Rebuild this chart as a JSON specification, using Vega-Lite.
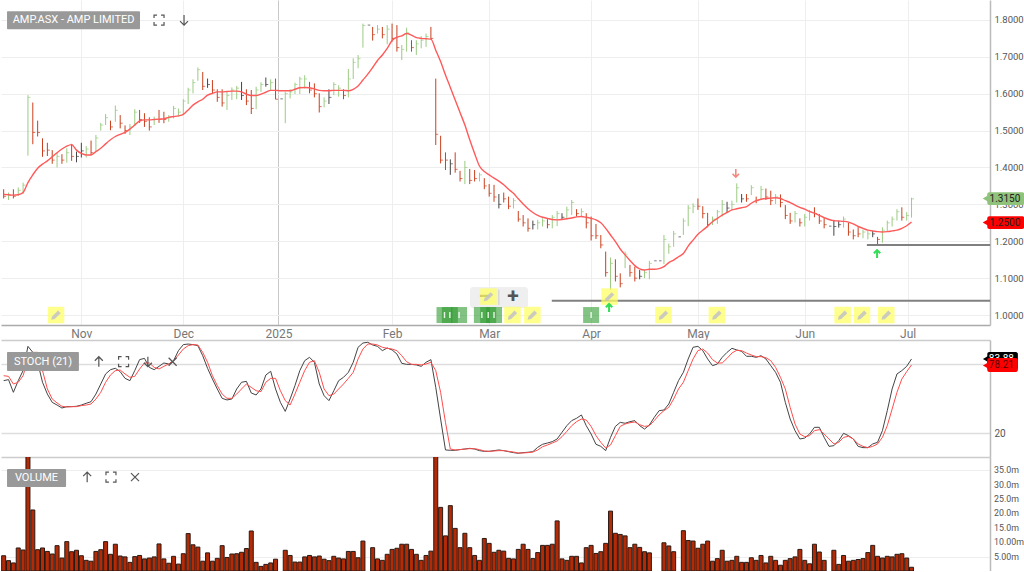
{"$schema":"https://vega.github.io/schema/vega-lite/v6.json","padding":0,"spacing":0,"background":"white","config":{"view":{"stroke":null},"font":"Roboto","concat":{"spacing":0}},
"datasets":{"bars":[
{"i":0,"low":1.316,"high":1.341,"close":1.322,"ma":1.327,"k":65.6,"d":69.9,"vol":5.3,"dir":"down"},
{"i":1,"low":1.312,"high":1.332,"close":1.325,"ma":1.326,"k":66.5,"d":69.3,"vol":3.6,"dir":"up"},
{"i":2,"low":1.316,"high":1.341,"close":1.322,"ma":1.325,"k":55.5,"d":62.7,"vol":2.8,"dir":"down"},
{"i":3,"low":1.323,"high":1.346,"close":1.338,"ma":1.326,"k":65.6,"d":64.2,"vol":8,"dir":"up"},
{"i":4,"low":1.328,"high":1.359,"close":1.352,"ma":1.332,"k":74.3,"d":69.9,"vol":7.3,"dir":"up"},
{"i":5,"low":1.432,"high":1.596,"close":1.59,"ma":1.359,"k":95.3,"d":84.4,"vol":43,"dir":"up"},
{"i":6,"low":1.463,"high":1.576,"close":1.495,"ma":1.38,"k":90.1,"d":90.1,"vol":21.2,"dir":"down"},
{"i":7,"low":1.484,"high":1.527,"close":1.495,"ma":1.398,"k":81.5,"d":90.1,"vol":7.4,"dir":"down"},
{"i":8,"low":1.429,"high":1.479,"close":1.445,"ma":1.409,"k":64.2,"d":74.3,"vol":8,"dir":"down"},
{"i":9,"low":1.431,"high":1.467,"close":1.447,"ma":1.418,"k":54,"d":58.4,"vol":6.8,"dir":"down"},
{"i":10,"low":1.41,"high":1.447,"close":1.42,"ma":1.429,"k":46.8,"d":49.7,"vol":5.9,"dir":"down"},
{"i":11,"low":1.4,"high":1.44,"close":1.43,"ma":1.44,"k":44.5,"d":46.3,"vol":8.8,"dir":"up"},
{"i":12,"low":1.41,"high":1.436,"close":1.42,"ma":1.45,"k":41.9,"d":43.4,"vol":4.5,"dir":"down"},
{"i":13,"low":1.413,"high":1.452,"close":1.44,"ma":1.458,"k":43.1,"d":42.8,"vol":10.2,"dir":"up"},
{"i":14,"low":1.418,"high":1.464,"close":1.43,"ma":1.462,"k":43.1,"d":43.1,"vol":6.7,"dir":"down"},
{"i":15,"low":1.414,"high":1.443,"close":1.43,"ma":1.447,"k":43.4,"d":43.1,"vol":7.2,"dir":"flat"},
{"i":16,"low":1.427,"high":1.467,"close":1.445,"ma":1.438,"k":44.5,"d":44,"vol":5.3,"dir":"flat"},
{"i":17,"low":1.427,"high":1.458,"close":1.45,"ma":1.434,"k":46,"d":44.5,"vol":3.7,"dir":"up"},
{"i":18,"low":1.434,"high":1.473,"close":1.44,"ma":1.434,"k":47.4,"d":45.4,"vol":3.4,"dir":"down"},
{"i":19,"low":1.443,"high":1.488,"close":1.48,"ma":1.443,"k":54,"d":49.7,"vol":6.8,"dir":"up"},
{"i":20,"low":1.5,"high":1.521,"close":1.515,"ma":1.452,"k":62.7,"d":55.5,"vol":7.4,"dir":"up"},
{"i":21,"low":1.515,"high":1.545,"close":1.535,"ma":1.464,"k":71.4,"d":64.2,"vol":10.2,"dir":"up"},
{"i":22,"low":1.501,"high":1.527,"close":1.51,"ma":1.475,"k":75.1,"d":70.5,"vol":5.8,"dir":"down"},
{"i":23,"low":1.524,"high":1.568,"close":1.555,"ma":1.484,"k":76.3,"d":74.3,"vol":9.3,"dir":"up"},
{"i":24,"low":1.506,"high":1.542,"close":1.52,"ma":1.49,"k":73.4,"d":74.8,"vol":5.2,"dir":"down"},
{"i":25,"low":1.491,"high":1.514,"close":1.5,"ma":1.495,"k":67.6,"d":71.4,"vol":4.9,"dir":"down"},
{"i":26,"low":1.488,"high":1.518,"close":1.51,"ma":1.504,"k":65.6,"d":68.5,"vol":3,"dir":"up"},
{"i":27,"low":1.512,"high":1.558,"close":1.55,"ma":1.515,"k":74.3,"d":69.3,"vol":5,"dir":"up"},
{"i":28,"low":1.521,"high":1.556,"close":1.53,"ma":1.526,"k":83.8,"d":75.7,"vol":5.4,"dir":"down"},
{"i":29,"low":1.51,"high":1.547,"close":1.525,"ma":1.529,"k":84.9,"d":80.9,"vol":4.2,"dir":"down"},
{"i":30,"low":1.5,"high":1.536,"close":1.51,"ma":1.529,"k":77.1,"d":80.9,"vol":4.5,"dir":"down"},
{"i":31,"low":1.515,"high":1.538,"close":1.53,"ma":1.53,"k":75.1,"d":77.1,"vol":4.9,"dir":"up"},
{"i":32,"low":1.521,"high":1.556,"close":1.53,"ma":1.531,"k":78,"d":75.7,"vol":9.4,"dir":"down"},
{"i":33,"low":1.52,"high":1.551,"close":1.53,"ma":1.532,"k":80.9,"d":78,"vol":4.2,"dir":"down"},
{"i":34,"low":1.524,"high":1.542,"close":1.535,"ma":1.536,"k":80,"d":80,"vol":2.7,"dir":"up"},
{"i":35,"low":1.533,"high":1.567,"close":1.56,"ma":1.538,"k":82.9,"d":82.9,"vol":5.1,"dir":"up"},
{"i":36,"low":1.538,"high":1.56,"close":1.55,"ma":1.54,"k":91.6,"d":87.8,"vol":2.4,"dir":"up"},
{"i":37,"low":1.542,"high":1.585,"close":1.58,"ma":1.544,"k":96.8,"d":93,"vol":6,"dir":"up"},
{"i":38,"low":1.572,"high":1.616,"close":1.61,"ma":1.556,"k":97.3,"d":95.9,"vol":13,"dir":"up"},
{"i":39,"low":1.601,"high":1.639,"close":1.63,"ma":1.569,"k":96.8,"d":96.8,"vol":9.1,"dir":"up"},
{"i":40,"low":1.635,"high":1.671,"close":1.665,"ma":1.578,"k":95.9,"d":96.5,"vol":8.3,"dir":"up"},
{"i":41,"low":1.61,"high":1.659,"close":1.62,"ma":1.585,"k":87.2,"d":90.1,"vol":3.4,"dir":"down"},
{"i":42,"low":1.616,"high":1.641,"close":1.625,"ma":1.596,"k":76.3,"d":81.5,"vol":6.3,"dir":"flat"},
{"i":43,"low":1.599,"high":1.637,"close":1.61,"ma":1.601,"k":67,"d":69.9,"vol":3.4,"dir":"down"},
{"i":44,"low":1.578,"high":1.612,"close":1.59,"ma":1.605,"k":58.4,"d":61.3,"vol":4.4,"dir":"down"},
{"i":45,"low":1.565,"high":1.612,"close":1.575,"ma":1.605,"k":50.3,"d":54,"vol":8.8,"dir":"down"},
{"i":46,"low":1.556,"high":1.604,"close":1.595,"ma":1.606,"k":48.9,"d":50.3,"vol":4.7,"dir":"up"},
{"i":47,"low":1.583,"high":1.617,"close":1.61,"ma":1.607,"k":49.7,"d":50.3,"vol":5.9,"dir":"up"},
{"i":48,"low":1.585,"high":1.621,"close":1.615,"ma":1.607,"k":58.4,"d":54,"vol":6,"dir":"up"},
{"i":49,"low":1.583,"high":1.632,"close":1.595,"ma":1.605,"k":64.2,"d":58.4,"vol":6.5,"dir":"flat"},
{"i":50,"low":1.569,"high":1.612,"close":1.58,"ma":1.599,"k":65,"d":62.7,"vol":7.8,"dir":"down"},
{"i":51,"low":1.545,"high":1.61,"close":1.56,"ma":1.595,"k":54.9,"d":59.8,"vol":13.9,"dir":"down"},
{"i":52,"low":1.558,"high":1.619,"close":1.61,"ma":1.595,"k":53.2,"d":56.9,"vol":3,"dir":"up"},
{"i":53,"low":1.605,"high":1.631,"close":1.625,"ma":1.599,"k":58.4,"d":56.1,"vol":1.6,"dir":"up"},
{"i":54,"low":1.619,"high":1.644,"close":1.625,"ma":1.604,"k":70.5,"d":64.2,"vol":2.3,"dir":"flat"},
{"i":55,"low":1.61,"high":1.639,"close":1.63,"ma":1.609,"k":73.7,"d":67.6,"vol":2.8,"dir":"up"},
{"i":56,"low":1.585,"high":1.641,"close":1.585,"ma":1.609,"k":58.4,"d":67.6,"vol":4.1,"dir":"down"},
{"i":57,"low":1.586,"high":1.586,"close":1.586,"ma":1.608,"k":46.8,"d":56.9,"vol":null,"dir":"flat"},
{"i":58,"low":1.52,"high":1.605,"close":1.6,"ma":1.608,"k":39,"d":48.3,"vol":7.2,"dir":"up"},
{"i":59,"low":1.587,"high":1.612,"close":1.605,"ma":1.608,"k":49.7,"d":44.5,"vol":5.4,"dir":"up"},
{"i":60,"low":1.599,"high":1.63,"close":1.625,"ma":1.612,"k":61.3,"d":54,"vol":3.1,"dir":"up"},
{"i":61,"low":1.599,"high":1.646,"close":1.64,"ma":1.616,"k":74.3,"d":64.2,"vol":3.1,"dir":"up"},
{"i":62,"low":1.614,"high":1.65,"close":1.64,"ma":1.617,"k":82.9,"d":74.3,"vol":4.9,"dir":"up"},
{"i":63,"low":1.601,"high":1.632,"close":1.61,"ma":1.616,"k":85.8,"d":81.5,"vol":5.4,"dir":"down"},
{"i":64,"low":1.59,"high":1.628,"close":1.6,"ma":1.613,"k":81.5,"d":82.9,"vol":4.9,"dir":"down"},
{"i":65,"low":1.549,"high":1.601,"close":1.565,"ma":1.609,"k":62.7,"d":72.8,"vol":5.2,"dir":"down"},
{"i":66,"low":1.563,"high":1.59,"close":1.58,"ma":1.608,"k":52.6,"d":58.4,"vol":4.1,"dir":"up"},
{"i":67,"low":1.572,"high":1.612,"close":1.59,"ma":1.608,"k":48.3,"d":52.6,"vol":3.6,"dir":"flat"},
{"i":68,"low":1.596,"high":1.631,"close":1.625,"ma":1.609,"k":56.9,"d":54,"vol":5.1,"dir":"up"},
{"i":69,"low":1.592,"high":1.623,"close":1.615,"ma":1.609,"k":65.6,"d":58.4,"vol":4.5,"dir":"up"},
{"i":70,"low":1.585,"high":1.612,"close":1.595,"ma":1.609,"k":68.5,"d":62.7,"vol":4.2,"dir":"down"},
{"i":71,"low":1.59,"high":1.667,"close":1.64,"ma":1.608,"k":72.8,"d":67.6,"vol":6.8,"dir":"up"},
{"i":72,"low":1.64,"high":1.696,"close":1.685,"ma":1.612,"k":81.5,"d":72.8,"vol":6.8,"dir":"up"},
{"i":73,"low":1.669,"high":1.705,"close":1.695,"ma":1.621,"k":94.5,"d":84.4,"vol":4.6,"dir":"up"},
{"i":74,"low":1.725,"high":1.79,"close":1.785,"ma":1.637,"k":98.2,"d":93,"vol":10.4,"dir":"up"},
{"i":75,"low":1.786,"high":1.786,"close":1.786,"ma":1.653,"k":98.8,"d":97.3,"vol":null,"dir":"flat"},
{"i":76,"low":1.744,"high":1.781,"close":1.76,"ma":1.671,"k":96.5,"d":97.3,"vol":8.1,"dir":"down"},
{"i":77,"low":1.763,"high":1.786,"close":1.775,"ma":1.69,"k":95.3,"d":96.5,"vol":4.2,"dir":"up"},
{"i":78,"low":1.75,"high":1.781,"close":1.76,"ma":1.705,"k":91.6,"d":94.5,"vol":3.7,"dir":"down"},
{"i":79,"low":1.734,"high":1.786,"close":1.775,"ma":1.723,"k":93.9,"d":93.6,"vol":5.8,"dir":"up"},
{"i":80,"low":1.741,"high":1.79,"close":1.75,"ma":1.744,"k":92.2,"d":93,"vol":7.5,"dir":"down"},
{"i":81,"low":1.714,"high":1.786,"close":1.725,"ma":1.753,"k":88.7,"d":91.6,"vol":7.9,"dir":"down"},
{"i":82,"low":1.691,"high":1.732,"close":1.72,"ma":1.757,"k":80.6,"d":87.2,"vol":9.3,"dir":"up"},
{"i":83,"low":1.714,"high":1.779,"close":1.765,"ma":1.763,"k":79.7,"d":82,"vol":9.3,"dir":"up"},
{"i":84,"low":1.714,"high":1.745,"close":1.725,"ma":1.759,"k":79.7,"d":79.7,"vol":7.5,"dir":"down"},
{"i":85,"low":1.705,"high":1.745,"close":1.735,"ma":1.752,"k":79.2,"d":79.7,"vol":5.8,"dir":"up"},
{"i":86,"low":1.723,"high":1.756,"close":1.745,"ma":1.75,"k":78,"d":79.2,"vol":3.7,"dir":"up"},
{"i":87,"low":1.727,"high":1.763,"close":1.755,"ma":1.749,"k":81.5,"d":80,"vol":5.4,"dir":"up"},
{"i":88,"low":1.747,"high":1.781,"close":1.75,"ma":1.748,"k":83.8,"d":81.5,"vol":6.9,"dir":"down"},
{"i":89,"low":1.461,"high":1.641,"close":1.49,"ma":1.718,"k":59.8,"d":74.3,"vol":43,"dir":"down"},
{"i":90,"low":1.411,"high":1.486,"close":1.42,"ma":1.687,"k":32.4,"d":55.5,"vol":22.1,"dir":"down"},
{"i":91,"low":1.393,"high":1.441,"close":1.42,"ma":1.651,"k":5.6,"d":29.5,"vol":12.2,"dir":"down"},
{"i":92,"low":1.38,"high":1.422,"close":1.41,"ma":1.617,"k":5.3,"d":6.4,"vol":22.7,"dir":"flat"},
{"i":93,"low":1.386,"high":1.441,"close":1.395,"ma":1.583,"k":5.3,"d":5.6,"vol":14.8,"dir":"down"},
{"i":94,"low":1.362,"high":1.391,"close":1.37,"ma":1.549,"k":5.9,"d":5.9,"vol":8.1,"dir":"down"},
{"i":95,"low":1.355,"high":1.418,"close":1.4,"ma":1.515,"k":6.4,"d":6.4,"vol":13.1,"dir":"up"},
{"i":96,"low":1.355,"high":1.396,"close":1.365,"ma":1.475,"k":7,"d":6.7,"vol":8.1,"dir":"down"},
{"i":97,"low":1.362,"high":1.393,"close":1.37,"ma":1.438,"k":6.4,"d":6.7,"vol":5.4,"dir":"down"},
{"i":98,"low":1.362,"high":1.386,"close":1.38,"ma":1.404,"k":5,"d":5.9,"vol":3.7,"dir":"up"},
{"i":99,"low":1.341,"high":1.371,"close":1.35,"ma":1.389,"k":4.4,"d":4.7,"vol":11.3,"dir":"down"},
{"i":100,"low":1.321,"high":1.355,"close":1.33,"ma":1.38,"k":4.4,"d":4.4,"vol":9.6,"dir":"down"},
{"i":101,"low":1.307,"high":1.353,"close":1.32,"ma":1.371,"k":5,"d":4.7,"vol":6.5,"dir":"down"},
{"i":102,"low":1.289,"high":1.328,"close":1.3,"ma":1.363,"k":5.6,"d":5,"vol":7.2,"dir":"flat"},
{"i":103,"low":1.305,"high":1.332,"close":1.315,"ma":1.353,"k":5,"d":5,"vol":6.9,"dir":"down"},
{"i":104,"low":1.287,"high":1.321,"close":1.295,"ma":1.341,"k":4.1,"d":4.4,"vol":4.4,"dir":"down"},
{"i":105,"low":1.289,"high":1.317,"close":1.31,"ma":1.33,"k":3.3,"d":3.8,"vol":4.2,"dir":"up"},
{"i":106,"low":1.253,"high":1.282,"close":1.26,"ma":1.315,"k":2.7,"d":3,"vol":7.5,"dir":"down"},
{"i":107,"low":1.24,"high":1.271,"close":1.25,"ma":1.301,"k":3.3,"d":3,"vol":9.3,"dir":"down"},
{"i":108,"low":1.226,"high":1.262,"close":1.235,"ma":1.288,"k":3.6,"d":3.3,"vol":7.5,"dir":"down"},
{"i":109,"low":1.232,"high":1.256,"close":1.245,"ma":1.278,"k":4.1,"d":3.8,"vol":4.3,"dir":"flat"},
{"i":110,"low":1.232,"high":1.258,"close":1.25,"ma":1.27,"k":7.9,"d":5.6,"vol":6.4,"dir":"up"},
{"i":111,"low":1.24,"high":1.262,"close":1.255,"ma":1.265,"k":10.5,"d":8.4,"vol":8.9,"dir":"up"},
{"i":112,"low":1.235,"high":1.26,"close":1.245,"ma":1.262,"k":11.6,"d":9.9,"vol":8.9,"dir":"down"},
{"i":113,"low":1.235,"high":1.271,"close":1.265,"ma":1.259,"k":12.8,"d":11.6,"vol":9.3,"dir":"up"},
{"i":114,"low":1.241,"high":1.282,"close":1.275,"ma":1.258,"k":15.1,"d":13.4,"vol":17.4,"dir":"up"},
{"i":115,"low":1.258,"high":1.276,"close":1.265,"ma":1.259,"k":20.9,"d":17.1,"vol":4.2,"dir":"flat"},
{"i":116,"low":1.26,"high":1.294,"close":1.285,"ma":1.261,"k":26.6,"d":21.7,"vol":3.7,"dir":"up"},
{"i":117,"low":1.271,"high":1.312,"close":1.305,"ma":1.263,"k":31,"d":26.6,"vol":5.1,"dir":"up"},
{"i":118,"low":1.267,"high":1.287,"close":1.275,"ma":1.266,"k":33,"d":30.1,"vol":5.1,"dir":"down"},
{"i":119,"low":1.267,"high":1.289,"close":1.28,"ma":1.267,"k":35.9,"d":32.4,"vol":2.8,"dir":"up"},
{"i":120,"low":1.235,"high":1.276,"close":1.25,"ma":1.265,"k":26.6,"d":31.5,"vol":8.1,"dir":"down"},
{"i":121,"low":1.202,"high":1.267,"close":1.215,"ma":1.262,"k":19.4,"d":26,"vol":8.9,"dir":"down"},
{"i":122,"low":1.206,"high":1.247,"close":1.215,"ma":1.258,"k":10.5,"d":18,"vol":6.1,"dir":"down"},
{"i":123,"low":1.181,"high":1.217,"close":1.19,"ma":1.25,"k":8.7,"d":12.2,"vol":6.7,"dir":"down"},
{"i":124,"low":1.104,"high":1.172,"close":1.115,"ma":1.235,"k":5,"d":7.3,"vol":9.6,"dir":"down"},
{"i":125,"low":1.068,"high":1.156,"close":1.14,"ma":1.217,"k":16.5,"d":9.9,"vol":20.8,"dir":"up"},
{"i":126,"low":1.091,"high":1.151,"close":1.105,"ma":1.199,"k":26,"d":18,"vol":13.1,"dir":"down"},
{"i":127,"low":1.075,"high":1.113,"close":1.085,"ma":1.179,"k":29.5,"d":26,"vol":12.7,"dir":"down"},
{"i":128,"low":1.127,"high":1.172,"close":1.165,"ma":1.163,"k":28.7,"d":28.1,"vol":12.2,"dir":"up"},
{"i":129,"low":1.104,"high":1.136,"close":1.115,"ma":1.148,"k":30.1,"d":29.2,"vol":8.1,"dir":"down"},
{"i":130,"low":1.091,"high":1.131,"close":1.1,"ma":1.134,"k":31,"d":29.8,"vol":9.3,"dir":"down"},
{"i":131,"low":1.097,"high":1.122,"close":1.105,"ma":1.125,"k":26.6,"d":27.5,"vol":8.2,"dir":"flat"},
{"i":132,"low":1.1,"high":1.122,"close":1.115,"ma":1.122,"k":23.7,"d":26,"vol":6.7,"dir":"up"},
{"i":133,"low":1.097,"high":1.147,"close":1.14,"ma":1.124,"k":27.2,"d":26.6,"vol":6.3,"dir":"up"},
{"i":134,"low":1.147,"high":1.147,"close":1.147,"ma":1.124,"k":33.8,"d":31,"vol":null,"dir":"flat"},
{"i":135,"low":1.147,"high":1.147,"close":1.147,"ma":1.126,"k":39.6,"d":35.9,"vol":null,"dir":"flat"},
{"i":136,"low":1.138,"high":1.217,"close":1.205,"ma":1.131,"k":40.2,"d":39.6,"vol":9.8,"dir":"up"},
{"i":137,"low":1.166,"high":1.194,"close":1.185,"ma":1.142,"k":45.4,"d":42.5,"vol":8.7,"dir":"up"},
{"i":138,"low":1.185,"high":1.228,"close":1.22,"ma":1.149,"k":55.5,"d":49.7,"vol":6.7,"dir":"up"},
{"i":139,"low":1.212,"high":1.212,"close":1.212,"ma":1.158,"k":65.6,"d":58.4,"vol":null,"dir":"flat"},
{"i":140,"low":1.217,"high":1.262,"close":1.255,"ma":1.167,"k":72.8,"d":64.2,"vol":14,"dir":"up"},
{"i":141,"low":1.241,"high":1.298,"close":1.29,"ma":1.187,"k":84.4,"d":74.3,"vol":10.6,"dir":"up"},
{"i":142,"low":1.276,"high":1.303,"close":1.295,"ma":1.203,"k":94.5,"d":84.4,"vol":10.4,"dir":"up"},
{"i":143,"low":1.285,"high":1.316,"close":1.295,"ma":1.219,"k":95.3,"d":91.6,"vol":7.9,"dir":"down"},
{"i":144,"low":1.262,"high":1.295,"close":1.275,"ma":1.23,"k":91.6,"d":93,"vol":9.3,"dir":"down"},
{"i":145,"low":1.238,"high":1.277,"close":1.245,"ma":1.241,"k":84.4,"d":89.5,"vol":10.4,"dir":"down"},
{"i":146,"low":1.244,"high":1.267,"close":1.26,"ma":1.253,"k":78.6,"d":83.8,"vol":3.4,"dir":"up"},
{"i":147,"low":1.247,"high":1.285,"close":1.28,"ma":1.262,"k":80,"d":80.9,"vol":4.3,"dir":"up"},
{"i":148,"low":1.267,"high":1.312,"close":1.3,"ma":1.271,"k":85.8,"d":80.9,"vol":7.2,"dir":"up"},
{"i":149,"low":1.276,"high":1.307,"close":1.29,"ma":1.278,"k":90.1,"d":84.9,"vol":3.4,"dir":"flat"},
{"i":150,"low":1.285,"high":1.31,"close":1.3,"ma":1.285,"k":93.6,"d":89.5,"vol":3.7,"dir":"up"},
{"i":151,"low":1.305,"high":1.357,"close":1.345,"ma":1.288,"k":92.2,"d":91.9,"vol":5.1,"dir":"up"},
{"i":152,"low":1.305,"high":1.328,"close":1.315,"ma":1.291,"k":91,"d":91.6,"vol":3,"dir":"flat"},
{"i":153,"low":1.307,"high":1.328,"close":1.315,"ma":1.294,"k":86.7,"d":89.5,"vol":3,"dir":"down"},
{"i":154,"low":1.325,"high":1.352,"close":1.345,"ma":1.303,"k":86.7,"d":87.8,"vol":4.6,"dir":"up"},
{"i":155,"low":1.303,"high":1.321,"close":1.31,"ma":1.31,"k":85.8,"d":86.4,"vol":3.7,"dir":"down"},
{"i":156,"low":1.314,"high":1.35,"close":1.34,"ma":1.314,"k":87.2,"d":86.4,"vol":5.4,"dir":"up"},
{"i":157,"low":1.312,"high":1.343,"close":1.32,"ma":1.316,"k":84.4,"d":85.5,"vol":2.8,"dir":"down"},
{"i":158,"low":1.298,"high":1.337,"close":1.31,"ma":1.317,"k":78.6,"d":82.9,"vol":5.1,"dir":"down"},
{"i":159,"low":1.301,"high":1.328,"close":1.32,"ma":1.318,"k":72.8,"d":77.1,"vol":3.7,"dir":"up"},
{"i":160,"low":1.292,"high":1.327,"close":1.305,"ma":1.316,"k":64.2,"d":68.5,"vol":2,"dir":"down"},
{"i":161,"low":1.26,"high":1.298,"close":1.27,"ma":1.31,"k":46.8,"d":58.4,"vol":3.7,"dir":"down"},
{"i":162,"low":1.247,"high":1.277,"close":1.255,"ma":1.305,"k":32.4,"d":42.5,"vol":4.3,"dir":"down"},
{"i":163,"low":1.251,"high":1.282,"close":1.275,"ma":1.298,"k":22.3,"d":28.1,"vol":4.9,"dir":"up"},
{"i":164,"low":1.24,"high":1.262,"close":1.25,"ma":1.292,"k":15.1,"d":19.4,"vol":7.5,"dir":"down"},
{"i":165,"low":1.24,"high":1.274,"close":1.265,"ma":1.287,"k":15.9,"d":17.1,"vol":3.7,"dir":"up"},
{"i":166,"low":1.256,"high":1.285,"close":1.28,"ma":1.281,"k":19.4,"d":18,"vol":2.5,"dir":"up"},
{"i":167,"low":1.265,"high":1.292,"close":1.275,"ma":1.276,"k":25.2,"d":22.3,"vol":9.3,"dir":"down"},
{"i":168,"low":1.247,"high":1.274,"close":1.255,"ma":1.27,"k":25.2,"d":23.2,"vol":6.6,"dir":"down"},
{"i":169,"low":1.235,"high":1.264,"close":1.245,"ma":1.264,"k":16.5,"d":19.4,"vol":3.7,"dir":"down"},
{"i":170,"low":1.241,"high":1.241,"close":1.241,"ma":1.259,"k":8.7,"d":15.1,"vol":null,"dir":"flat"},
{"i":171,"low":1.215,"high":1.258,"close":1.24,"ma":1.256,"k":9.3,"d":10.8,"vol":7.2,"dir":"flat"},
{"i":172,"low":1.237,"high":1.255,"close":1.245,"ma":1.255,"k":13.6,"d":12.2,"vol":2.3,"dir":"flat"},
{"i":173,"low":1.237,"high":1.267,"close":1.26,"ma":1.254,"k":20,"d":16.5,"vol":5.4,"dir":"up"},
{"i":174,"low":1.215,"high":1.25,"close":1.225,"ma":1.252,"k":18,"d":17.4,"vol":3.4,"dir":"down"},
{"i":175,"low":1.205,"high":1.232,"close":1.215,"ma":1.247,"k":15.1,"d":15.1,"vol":3.7,"dir":"down"},
{"i":176,"low":1.211,"high":1.238,"close":1.22,"ma":1.24,"k":8.7,"d":10.8,"vol":4,"dir":"down"},
{"i":177,"low":1.208,"high":1.232,"close":1.225,"ma":1.235,"k":7.6,"d":8.7,"vol":4.3,"dir":"up"},
{"i":178,"low":1.205,"high":1.228,"close":1.22,"ma":1.23,"k":7.6,"d":7.6,"vol":6.4,"dir":"up"},
{"i":179,"low":1.211,"high":1.228,"close":1.22,"ma":1.228,"k":10.8,"d":8.7,"vol":8.9,"dir":"flat"},
{"i":180,"low":1.188,"high":1.212,"close":1.205,"ma":1.226,"k":12.2,"d":10.8,"vol":5.1,"dir":"down"},
{"i":181,"low":1.196,"high":1.238,"close":1.23,"ma":1.225,"k":22.3,"d":16.5,"vol":4.5,"dir":"up"},
{"i":182,"low":1.226,"high":1.256,"close":1.25,"ma":1.226,"k":39.6,"d":26.6,"vol":5.1,"dir":"up"},
{"i":183,"low":1.24,"high":1.267,"close":1.26,"ma":1.228,"k":58.4,"d":41,"vol":4.9,"dir":"up"},
{"i":184,"low":1.256,"high":1.287,"close":1.28,"ma":1.23,"k":71.4,"d":55.5,"vol":5.8,"dir":"up"},
{"i":185,"low":1.256,"high":1.292,"close":1.265,"ma":1.235,"k":74.3,"d":67,"vol":6,"dir":"down"},
{"i":186,"low":1.256,"high":1.279,"close":1.27,"ma":1.242,"k":78,"d":73.4,"vol":4.5,"dir":"up"},
{"i":187,"low":1.264,"high":1.318,"close":1.315,"ma":1.252,"k":84.4,"d":79.2,"vol":1.3,"dir":"up"}
],
"pencils":[{"x":10.78,"y":1.0},{"x":104.8,"y":1.0},{"x":108.9,"y":1.0},{"x":135.9,"y":1.0},{"x":146.9,"y":1.0},{"x":172.8,"y":1.0},{"x":176.8,"y":1.0},{"x":181.8,"y":1.0},{"x":99.86,"y":1.05},{"x":124.8,"y":1.05}],
"greens":[{"x":90.8,"y":1.0},{"x":91.9,"y":1.0},{"x":93.8,"y":1.0},{"x":98.5,"y":1.0},{"x":99.8,"y":1.0},{"x":101,"y":1.0},{"x":121,"y":1.0}],
"topIcons":[{"x":32,"y":1.7995,"icon":"expand"},{"x":37.15,"y":1.7995,"icon":"down"}],
"stochIcons":[{"x":19.6,"y":82,"icon":"up"},{"x":24.7,"y":82,"icon":"expand"},{"x":29.7,"y":82,"icon":"down"},{"x":34.8,"y":82,"icon":"cross"}],
"volIcons":[{"x":17.2,"y":32.6,"icon":"up"},{"x":22.1,"y":32.6,"icon":"expand"},{"x":27.05,"y":32.6,"icon":"cross"}],
"volLabels":[{"x":204,"y":5,"t":"5.00m"},{"x":204,"y":10,"t":"10.00m"},{"x":204,"y":15,"t":"15.0m"},{"x":204,"y":20,"t":"20.0m"},{"x":204,"y":25,"t":"25.0m"},{"x":204,"y":30,"t":"30.0m"},{"x":204,"y":35,"t":"35.0m"}],
"levels":[{"a":112.9,"b":203.2,"y":1.0388},{"a":177.8,"b":203.2,"y":1.1897}],
"priceTags":[{"a":202.6,"b":210.2,"lo":1.2985,"hi":1.333,"tip":202.5,"mid":1.3157,"t":209.4,"label":"1.3150","kind":"g"},{"a":202.6,"b":210.2,"lo":1.2335,"hi":1.268,"tip":202.5,"mid":1.2507,"t":209.4,"label":"1.2500","kind":"r"}],
"stochBlack":[{"a":202.6,"b":208.9,"lo":75,"hi":90.5,"tip":202.5,"mid":84.3,"t":208.1,"label":"83.88"}],
"stochRed":[{"a":202.6,"b":208.9,"lo":73,"hi":85.2,"tip":202.5,"mid":78.8,"t":208.1,"label":"78.21"}]
},
"vconcat":[
{"width":989,"height":325,"data":{"name":"bars"},
"layer":[
{"mark":{"type":"rule","strokeWidth":1},"encoding":{
"x":{"field":"i","type":"quantitative","scale":{"domain":[-0.55,203.16],"nice":false,"zero":false,"padding":0},
"axis":{"orient":"bottom","values":[16,37,56.6,80,100,121,143,165,186.2],"title":null,"ticks":false,"labelFontSize":12,"labelColor":"#777777","labelFont":"Roboto","labelPadding":3,"maxExtent":14.5,"minExtent":14.5,"domainColor":"#aaaaaa","domainWidth":1.5,"grid":true,"gridWidth":1,"gridColor":{"condition":{"test":"datum.value==56.6","value":"#c8c8c8"},"value":"#eeeeee"},
"labelExpr":"datum.value==16?'Nov':datum.value==37?'Dec':datum.value==56.6?'2025':datum.value==80?'Feb':datum.value==100?'Mar':datum.value==121?'Apr':datum.value==143?'May':datum.value==165?'Jun':'Jul'"}},
"y":{"field":"low","type":"quantitative","scale":{"domain":[0.973,1.854],"nice":false,"zero":false},
"axis":{"orient":"right","values":[1.0,1.1,1.2,1.3,1.4,1.5,1.6,1.7,1.8],"format":".4f","title":null,"ticks":false,"labelFontSize":9.5,"labelColor":"#555555","labelFont":"Roboto","labelPadding":4,"domainColor":"#bbbbbb","domainWidth":1.5,"grid":true,"gridColor":"#eeeeee","maxExtent":35,"minExtent":35}},
"y2":{"field":"high"},
"color":{"field":"dir","type":"nominal","scale":{"domain":["up","down","flat"],"range":["#9ccb84","#c8401e","#444444"]},"legend":null}}},
{"mark":{"type":"tick","orient":"horizontal","size":2.5,"thickness":1,"xOffset":1.2},"encoding":{"x":{"field":"i","type":"quantitative"},"y":{"field":"close","type":"quantitative"},"color":{"field":"dir","type":"nominal","legend":null,"scale":{"domain":["up","down","flat"],"range":["#9ccb84","#c8401e","#444444"]}}}},
{"mark":{"type":"line","color":"#ff5a5a","strokeWidth":1.4,"interpolate":"monotone"},"encoding":{"x":{"field":"i","type":"quantitative"},"y":{"field":"ma","type":"quantitative"}}},
{"data":{"name":"levels"},"mark":{"type":"rule","color":"#808080","strokeWidth":2},"encoding":{"x":{"field":"a","type":"quantitative"},"x2":{"field":"b"},"y":{"field":"y","type":"quantitative"}}},
{"data":{"values":[{"a":96.05,"b":108,"lo":1.019,"hi":1.0759}]},"mark":{"type":"rect","fill":"#eeeeee","opacity":0.95,"cornerRadius":3},"encoding":{"x":{"field":"a","type":"quantitative"},"x2":{"field":"b"},"y":{"field":"lo","type":"quantitative"},"y2":{"field":"hi"}}},
{"data":{"values":[{"x":102,"lo":1.027,"hi":1.069}]},"mark":{"type":"rule","color":"#cccccc","strokeWidth":1},"encoding":{"x":{"field":"x","type":"quantitative"},"y":{"field":"lo","type":"quantitative"},"y2":{"field":"hi"}}},
{"data":{"name":"greens"},"mark":{"type":"point","shape":"square","filled":true,"size":256,"color":"#2f9a2f","opacity":0.6},"encoding":{"x":{"field":"x","type":"quantitative"},"y":{"field":"y","type":"quantitative"}}},
{"data":{"name":"greens"},"mark":{"type":"point","shape":"M-0.12,-0.5H0.12V0.5H-0.12Z","filled":true,"size":144,"color":"#ffffff","opacity":0.85},"encoding":{"x":{"field":"x","type":"quantitative"},"y":{"field":"y","type":"quantitative"}}},
{"data":{"values":[{"x":99.1,"y":1.0488,"t":"−"},{"x":104.9,"y":1.0488,"t":"+"}]},"mark":{"type":"text","fontSize":21,"fontWeight":"bold","color":"#555555","font":"Roboto"},"encoding":{"x":{"field":"x","type":"quantitative"},"y":{"field":"y","type":"quantitative"},"text":{"field":"t"}}},
{"data":{"name":"pencils"},"mark":{"type":"point","shape":"square","filled":true,"size":272,"color":"#ffff66","opacity":0.75},"encoding":{"x":{"field":"x","type":"quantitative"},"y":{"field":"y","type":"quantitative"}}},
{"data":{"name":"pencils"},"mark":{"type":"point","shape":"M-0.9,0.9L-0.75,0.3L0.4,-0.85L0.9,-0.35L-0.25,0.75Z","filled":true,"size":110,"color":"#c4c4c4","opacity":0.9},"encoding":{"x":{"field":"x","type":"quantitative"},"y":{"field":"y","type":"quantitative"}}},
{"data":{"values":[{"x":124.7,"y":1.019},{"x":179.9,"y":1.1653}]},"mark":{"type":"point","shape":"M0,1V-1M-0.8,-0.2L0,-1L0.8,-0.2","filled":false,"size":64,"strokeWidth":2,"color":"#33dd55","opacity":1},"encoding":{"x":{"field":"x","type":"quantitative"},"y":{"field":"y","type":"quantitative"}}},
{"data":{"values":[{"x":150.8,"y":1.3848}]},"mark":{"type":"point","shape":"M0,-1V1M-0.8,0.2L0,1L0.8,0.2","filled":false,"size":64,"strokeWidth":1.6,"color":"#f28a80","opacity":1},"encoding":{"x":{"field":"x","type":"quantitative"},"y":{"field":"y","type":"quantitative"}}},
{"data":{"values":[{"a":0.69,"b":28.08,"lo":1.775,"hi":1.8238}]},"mark":{"type":"rect","fill":"#999999","cornerRadius":1},"encoding":{"x":{"field":"a","type":"quantitative"},"x2":{"field":"b"},"y":{"field":"lo","type":"quantitative"},"y2":{"field":"hi"}}},
{"data":{"values":[{"x":14.4,"y":1.799,"t":"AMP.ASX - AMP LIMITED"}]},"mark":{"type":"text","fontSize":11,"color":"#ffffff","font":"Roboto"},"encoding":{"x":{"field":"x","type":"quantitative"},"y":{"field":"y","type":"quantitative"},"text":{"field":"t"}}},
{"data":{"name":"topIcons"},"mark":{"type":"point","filled":false,"size":100,"strokeWidth":1.2,"color":"#555555","opacity":1},"encoding":{"x":{"field":"x","type":"quantitative"},"y":{"field":"y","type":"quantitative"},"shape":{"field":"icon","type":"nominal","legend":null,"scale":{"domain":["expand","down","up","cross"],"range":["M-1,-0.4V-1H-0.4M0.4,-1H1V-0.4M1,0.4V1H0.4M-0.4,1H-1V0.4","M0,-1V1M-0.8,0.2L0,1L0.8,0.2","M0,1V-1M-0.8,-0.2L0,-1L0.8,-0.2","M-0.8,-0.8L0.8,0.8M-0.8,0.8L0.8,-0.8"]}}}},
{"data":{"name":"priceTags"},"mark":{"type":"point","shape":"triangle-left","filled":true,"size":90,"opacity":1},"encoding":{"x":{"field":"tip","type":"quantitative"},"y":{"field":"mid","type":"quantitative"},"color":{"field":"kind","type":"nominal","legend":null,"scale":{"domain":["g","r","k"],"range":["#8fc27a","#ff0000","#000000"]}}}},
{"data":{"name":"priceTags"},"mark":{"type":"rect","cornerRadius":2},"encoding":{"x":{"field":"a","type":"quantitative"},"x2":{"field":"b"},"y":{"field":"lo","type":"quantitative"},"y2":{"field":"hi"},"color":{"field":"kind","type":"nominal","legend":null,"scale":{"domain":["g","r","k"],"range":["#8fc27a","#ff0000","#000000"]}}}},
{"data":{"name":"priceTags"},"mark":{"type":"text","align":"right","fontSize":10,"color":"#222222","font":"Roboto"},"encoding":{"x":{"field":"t","type":"quantitative"},"y":{"field":"mid","type":"quantitative"},"text":{"field":"label"}}}
],"resolve":{"scale":{"color":"independent","shape":"independent"}}},
{"width":989,"height":117,"data":{"name":"bars"},
"layer":[
{"mark":{"type":"line","color":"#444444","strokeWidth":1},"encoding":{
"x":{"field":"i","type":"quantitative","scale":{"domain":[-0.55,203.16],"nice":false,"zero":false,"padding":0},"axis":{"orient":"top","values":[],"title":null,"ticks":false,"labels":false,"domainColor":"#cccccc","domainWidth":1.5,"grid":false,"maxExtent":0,"minExtent":0}},
"y":{"field":"k","type":"quantitative","scale":{"domain":[-0.5,100.8],"nice":false,"zero":false},"axis":{"orient":"right","values":[20,80],"title":null,"ticks":false,"labelFontSize":10,"labelColor":"#555555","labelFont":"Roboto","labelPadding":4,"domainColor":"#bbbbbb","domainWidth":1.5,"grid":true,"gridColor":"#dddddd","gridWidth":1.5,"maxExtent":35,"minExtent":35}}}},
{"mark":{"type":"line","color":"#ff4d4d","strokeWidth":1},"encoding":{"x":{"field":"i","type":"quantitative"},"y":{"field":"d","type":"quantitative"}}},
{"data":{"values":[{"a":0.69,"b":15.5,"lo":73.9,"hi":90.4}]},"mark":{"type":"rect","fill":"#999999","cornerRadius":1},"encoding":{"x":{"field":"a","type":"quantitative"},"x2":{"field":"b"},"y":{"field":"lo","type":"quantitative"},"y2":{"field":"hi"}}},
{"data":{"values":[{"x":8.1,"y":82.1,"t":"STOCH (21)"}]},"mark":{"type":"text","fontSize":11,"color":"#ffffff","font":"Roboto"},"encoding":{"x":{"field":"x","type":"quantitative"},"y":{"field":"y","type":"quantitative"},"text":{"field":"t"}}},
{"data":{"name":"stochIcons"},"mark":{"type":"point","filled":false,"size":100,"strokeWidth":1.2,"color":"#555555","opacity":1},"encoding":{"x":{"field":"x","type":"quantitative"},"y":{"field":"y","type":"quantitative"},"shape":{"field":"icon","type":"nominal","legend":null,"scale":{"domain":["expand","down","up","cross"],"range":["M-1,-0.4V-1H-0.4M0.4,-1H1V-0.4M1,0.4V1H0.4M-0.4,1H-1V0.4","M0,-1V1M-0.8,0.2L0,1L0.8,0.2","M0,1V-1M-0.8,-0.2L0,-1L0.8,-0.2","M-0.8,-0.8L0.8,0.8M-0.8,0.8L0.8,-0.8"]}}}},
{"data":{"name":"stochBlack"},"mark":{"type":"point","shape":"triangle-left","filled":true,"size":80,"opacity":1,"color":"#000000"},"encoding":{"x":{"field":"tip","type":"quantitative"},"y":{"field":"mid","type":"quantitative"}}},
{"data":{"name":"stochBlack"},"mark":{"type":"rect","cornerRadius":2,"fill":"#000000"},"encoding":{"x":{"field":"a","type":"quantitative"},"x2":{"field":"b"},"y":{"field":"lo","type":"quantitative"},"y2":{"field":"hi"}}},
{"data":{"name":"stochBlack"},"mark":{"type":"text","align":"right","fontSize":10,"font":"Roboto","color":"#ffffff"},"encoding":{"x":{"field":"t","type":"quantitative"},"y":{"field":"mid","type":"quantitative"},"text":{"field":"label"}}},
{"data":{"name":"stochRed"},"mark":{"type":"point","shape":"triangle-left","filled":true,"size":80,"opacity":1,"color":"#ff0000"},"encoding":{"x":{"field":"tip","type":"quantitative"},"y":{"field":"mid","type":"quantitative"}}},
{"data":{"name":"stochRed"},"mark":{"type":"rect","cornerRadius":2,"fill":"#ff0000"},"encoding":{"x":{"field":"a","type":"quantitative"},"x2":{"field":"b"},"y":{"field":"lo","type":"quantitative"},"y2":{"field":"hi"}}},
{"data":{"name":"stochRed"},"mark":{"type":"text","align":"right","fontSize":10,"font":"Roboto","color":"#5a0000"},"encoding":{"x":{"field":"t","type":"quantitative"},"y":{"field":"mid","type":"quantitative"},"text":{"field":"label"}}}
],"resolve":{"scale":{"shape":"independent"}}},
{"width":989,"height":114,"data":{"name":"bars"},
"layer":[
{"mark":{"type":"bar","size":4,"fill":"#b32a06","stroke":"#2a1a14","strokeWidth":1,"clip":true},"encoding":{
"x":{"field":"i","type":"quantitative","scale":{"domain":[-0.55,203.16],"nice":false,"zero":false,"padding":0},"axis":{"orient":"top","values":[],"title":null,"ticks":false,"labels":false,"domainColor":"#cccccc","domainWidth":1.5,"grid":false,"maxExtent":0,"minExtent":0}},
"y":{"field":"vol","type":"quantitative","scale":{"domain":[0,39.6],"nice":false,"zero":true},"axis":{"orient":"right","values":[5,10,15,20,25,30,35],"title":null,"ticks":false,"labels":false,"domainColor":"#bbbbbb","domainWidth":1.5,"grid":true,"gridColor":"#eeeeee","maxExtent":35,"minExtent":35}}}},
{"data":{"name":"volLabels"},"mark":{"type":"text","align":"left","fontSize":8.8,"color":"#555555","font":"Roboto"},"encoding":{"x":{"field":"x","type":"quantitative"},"y":{"field":"y","type":"quantitative"},"text":{"field":"t"}}},
{"data":{"values":[{"a":0.69,"b":12.85,"lo":29.2,"hi":35.4}]},"mark":{"type":"rect","fill":"#999999","cornerRadius":1},"encoding":{"x":{"field":"a","type":"quantitative"},"x2":{"field":"b"},"y":{"field":"lo","type":"quantitative"},"y2":{"field":"hi"}}},
{"data":{"values":[{"x":6.76,"y":32.3,"t":"VOLUME"}]},"mark":{"type":"text","fontSize":11,"color":"#ffffff","font":"Roboto"},"encoding":{"x":{"field":"x","type":"quantitative"},"y":{"field":"y","type":"quantitative"},"text":{"field":"t"}}},
{"data":{"name":"volIcons"},"mark":{"type":"point","filled":false,"size":100,"strokeWidth":1.2,"color":"#555555","opacity":1},"encoding":{"x":{"field":"x","type":"quantitative"},"y":{"field":"y","type":"quantitative"},"shape":{"field":"icon","type":"nominal","legend":null,"scale":{"domain":["expand","down","up","cross"],"range":["M-1,-0.4V-1H-0.4M0.4,-1H1V-0.4M1,0.4V1H0.4M-0.4,1H-1V0.4","M0,-1V1M-0.8,0.2L0,1L0.8,0.2","M0,1V-1M-0.8,-0.2L0,-1L0.8,-0.2","M-0.8,-0.8L0.8,0.8M-0.8,0.8L0.8,-0.8"]}}}}
],"resolve":{"scale":{"shape":"independent"}}}
]}
